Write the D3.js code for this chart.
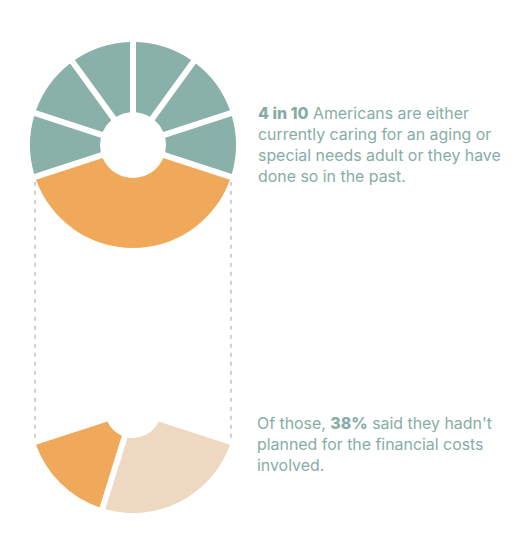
<!DOCTYPE html>
<html>
<head>
<meta charset="utf-8">
<script src="https://cdn.jsdelivr.net/npm/d3@7"></script>
<style>
  html, body { margin: 0; padding: 0; background: #ffffff; }
  svg { display: block; }
</style>
</head>
<body>
<svg id="chart" width="530" height="558"></svg>
<script>
// ---- data ----
const topCategories = ["Caregivers (current or past)", "Not 1", "Not 2", "Not 3", "Not 4", "Not 5", "Not 6"];
const topValues = [40, 10, 10, 10, 10, 10, 10];
const topColors = ["#f0a95a", "#89b0a9", "#89b0a9", "#89b0a9", "#89b0a9", "#89b0a9", "#89b0a9"];

const bottomCategories = ["Planned for costs", "Hadn't planned for costs"];
const bottomValues = [62, 38];
const bottomColors = ["#efd8c2", "#f0a95a"];

const topText = [
  [{t: "4 in 10", b: true}, {t: " Americans are either", b: false}],
  [{t: "currently caring for an aging or", b: false}],
  [{t: "special needs adult or they have", b: false}],
  [{t: "done so in the past.", b: false}]
];
const bottomText = [
  [{t: "Of those, ", b: false}, {t: "38%", b: true}, {t: " said they hadn't", b: false}],
  [{t: "planned for the financial costs", b: false}],
  [{t: "involved.", b: false}]
];

// ---- layout ----
const svg = d3.select("#chart");
const deg = Math.PI / 180;
const cx = 133, cyTop = 145, cyBottom = 410;
const rOuter = 103;
const startA = 108 * deg;

const topArc = d3.arc().innerRadius(33).outerRadius(rOuter).padAngle(0.06).padRadius(100);
const bottomArc = d3.arc().innerRadius(28).outerRadius(rOuter).padAngle(0.06).padRadius(100);

const topPie = d3.pie().sort(null).value(d => d).startAngle(startA).endAngle(startA + 2 * Math.PI);
const bottomPie = d3.pie().sort(null).value(d => d).startAngle(startA).endAngle(2 * Math.PI - startA);

// dashed connectors
const xEdge = Math.sin(startA) * rOuter;
const yEdge = -Math.cos(startA) * rOuter;
[-1, 1].forEach(s => {
  svg.append("line")
    .attr("x1", cx + s * xEdge).attr("x2", cx + s * xEdge)
    .attr("y1", cyTop + yEdge + 5).attr("y2", cyBottom + yEdge)
    .attr("stroke", "#d0d0d0").attr("stroke-width", 2)
    .attr("stroke-dasharray", "4,5");
});

svg.append("g").attr("transform", `translate(${cx},${cyTop})`)
  .selectAll("path").data(topPie(topValues)).join("path")
  .attr("d", topArc).attr("fill", (d, i) => topColors[i]);

svg.append("g").attr("transform", `translate(${cx},${cyBottom})`)
  .selectAll("path").data(bottomPie(bottomValues)).join("path")
  .attr("d", bottomArc).attr("fill", (d, i) => bottomColors[i]);

// text
const fontFam = "Inter, 'Open Sans', sans-serif";
// fit font size so the widest line matches the reference width
const probe = svg.append("text").attr("font-family", fontFam).attr("font-size", 15)
  .text("special needs adult or they have");
const w15 = probe.node().getComputedTextLength();
probe.remove();
const fs = Math.max(13, Math.min(17, 15 * 243 / w15));

function block(lines, x, y0, lh) {
  const t = svg.append("text")
    .attr("font-family", fontFam)
    .attr("font-size", fs)
    .attr("fill", "#86ada5");
  lines.forEach((ln, i) => {
    ln.forEach((seg, j) => {
      const ts = t.append("tspan").text(seg.t).attr("font-weight", seg.b ? 800 : 400)
        .style("white-space", "pre");
      if (j === 0) ts.attr("x", x).attr("y", y0 + i * lh);
    });
  });
}
block(topText, 258, 119, 21);
block(bottomText, 257, 429, 21);
</script>
</body>
</html>
